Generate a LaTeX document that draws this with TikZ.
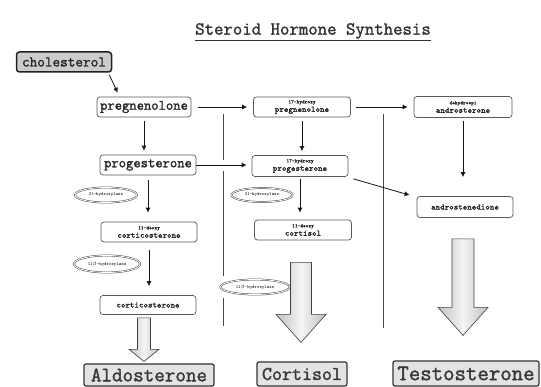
\documentclass[tikz,border=0pt]{standalone}
\usepackage{fontspec}
\setmonofont{Latin Modern Mono}[AutoFakeBold=1.6]
\newcommand{\monofam}{\ttfamily}
\usetikzlibrary{arrows.meta,shapes.geometric,calc}
\newcommand{\fatarrow}[5]{%
 \shadedraw[fatarr] let \p1=#1, \p2=#2 in
 (\x1-#3,\y1) -- (\x1+#3,\y1) -- (\x1+#3,\y2+#5) -- (\x1+#4,\y2+#5) -- (\x1,\y2) -- (\x1-#4,\y2+#5) -- (\x1-#3,\y2+#5) -- cycle;}
\begin{document}
\begin{tikzpicture}[x=1pt,y=-1pt,
 box/.style={draw=gray!70!black, line width=0.7pt, rounded corners=3pt, fill=white, inner sep=0pt, align=center, font=\monofam\bfseries, text=black!85},
 bigtxt/.style={font=\monofam\bfseries\fontsize{14.2}{15}\selectfont},
 smalltxt/.style={font=\monofam\bfseries\fontsize{8.5}{8.5}\selectfont},
 enz/.style={ellipse, draw=gray!60!black, double=white, double distance=0.8pt, line width=0.5pt, fill=white, inner sep=0pt, font=\monofam\fontsize{4.6}{5}\selectfont},
 final/.style={draw=gray!40!black, line width=1.2pt, fill=gray!22, rounded corners=2pt, inner sep=0pt, text=gray!45!black, font=\monofam\bfseries},
 arr/.style={draw=gray!15!black, line width=0.8pt, -{Latex[length=5pt,width=5pt]}},
 divider/.style={draw=gray!55!black, line width=1pt},
 fatarr/.style={left color=gray!50, right color=gray!50, middle color=gray!8, draw=gray!50!black, line width=0.6pt}]
\useasboundingbox (0,0) rectangle (541,387);
\fill[white] (0,0) rectangle (541,387);

% title
\node[font=\monofam\bfseries\fontsize{18.3}{20}\selectfont, text=black!80] (title) at (313,32) {\underline{Steroid Hormone Synthesis}};

% dividers
\coordinate (d1a) at (223,114); \coordinate (d1b) at (223,160);
\coordinate (d1c) at (223,171); \coordinate (d1d) at (223,276);
\coordinate (d1e) at (223,298); \coordinate (d1f) at (223,326);
\coordinate (d2a) at (383,114); \coordinate (d2b) at (383,328);
\draw[divider] (d1a) -- (d1b) (d1c) -- (d1d) (d1e) -- (d1f);
\draw[divider] (d2a) -- (d2b);

% nodes
\node[box, font=\monofam\bfseries\fontsize{14.8}{15}\selectfont, minimum width=95pt, minimum height=20pt, fill=gray!40, draw=gray!25!black, line width=1.5pt] (chol) at (64,62) {cholesterol};
\node[box, bigtxt, minimum width=94pt, minimum height=20pt] (preg) at (144,107) {pregnenolone};
\node[box, smalltxt, minimum width=97pt, minimum height=20pt] (ohpreg) at (302,107) {{\fontsize{5.1}{5.5}\selectfont 17-hydroxy}\\pregnenolone};
\node[box, smalltxt, minimum width=98pt, minimum height=21pt] (dhea) at (463,107) {{\fontsize{5.1}{5.5}\selectfont dehydroepi}\\androsterone};
\node[box, bigtxt, minimum width=96pt, minimum height=20pt] (prog) at (148,165) {progesterone};
\node[box, smalltxt, minimum width=96pt, minimum height=21pt] (ohprog) at (300,166) {{\fontsize{5.1}{5.5}\selectfont 17-hydroxy}\\progesterone};
\node[box, smalltxt, minimum width=96pt, minimum height=21pt] (andro) at (465,207) {androstenedione};
\node[box, smalltxt, minimum width=96pt, minimum height=20pt] (doc) at (149,232) {{\fontsize{5.1}{5.5}\selectfont 11-deoxy}\\corticosterone};
\node[box, smalltxt, minimum width=97pt, minimum height=20pt] (dcort) at (303,230) {{\fontsize{5.1}{5.5}\selectfont 11-deoxy}\\cortisol};
\node[box, smalltxt, minimum width=96pt, minimum height=19pt] (cortico) at (148,305) {corticosterone};

\node[final, font=\monofam\bfseries\fontsize{20.5}{21}\selectfont, minimum width=130pt, minimum height=22pt] (ald) at (149,375) {Aldosterone};
\node[final, font=\monofam\bfseries\fontsize{19.4}{20}\selectfont, minimum width=90pt, minimum height=24pt] (cortisol) at (302,374) {Cortisol};
\node[final, font=\monofam\bfseries\fontsize{22.2}{23}\selectfont, minimum width=146pt, minimum height=25pt] (testo) at (466,373.5) {Testosterone};

% connectors
\draw[arr] ([shift={(-3,2)}]chol.south east) -- ([shift={(21,-4)}]preg.north west);
\draw[arr, shorten <=7pt, shorten >=6pt] (preg.east) -- (ohpreg.west);
\draw[arr, shorten <=5pt, shorten >=6pt] (ohpreg.east) -- (dhea.west);
\draw[arr, shorten <=4pt, shorten >=4pt] (preg.south) -- (preg.south |- prog.north);
\draw[arr, shorten <=4pt, shorten >=4pt] (ohpreg.south) -- (ohpreg.south |- ohprog.north);
\draw[arr, shorten <=3pt, shorten >=19pt] (dhea.south) -- (dhea.south |- andro.north);
\draw[arr, shorten >=5pt] (prog.east) -- (prog.east -| ohprog.west);
\draw[arr] ([shift={(5,2)}]ohprog.south east) -- ([shift={(-7,-1)}]andro.north west);
\draw[arr, shorten <=5pt, shorten >=9pt] (prog.south) -- (prog.south |- doc.north);
\draw[arr, shorten <=2pt, shorten >=7pt] (ohprog.south) -- (ohprog.south |- dcort.north);
\draw[arr, shorten <=8pt, shorten >=9pt] (doc.south) -- (doc.south |- cortico.north);

% big arrows
\fatarrow{([shift={(-4,3)}]cortico.south)}{([yshift=2pt]ald.north)}{6.5pt}{15pt}{12pt}
\fatarrow{([shift={(-2,22)}]dcort.south)}{([yshift=19pt]cortisol.north)}{10.5pt}{25pt}{28pt}
\fatarrow{([shift={(-2,21)}]andro.south)}{([yshift=25pt]testo.north)}{11pt}{25pt}{28pt}

% enzymes
\node[enz, minimum width=62pt, minimum height=15pt] (e1) at (106,195) {21-hydroxylase};
\node[enz, minimum width=61pt, minimum height=14pt] (e2) at (262,195) {21-hydroxylase};
\node[enz, minimum width=66pt, minimum height=17pt] (e3) at (107,264) {11$\beta$-hydroxylase};
\node[enz, minimum width=69pt, minimum height=15pt] (e4) at (255,287) {11$\beta$-hydroxylase};
\end{tikzpicture}
\end{document}
